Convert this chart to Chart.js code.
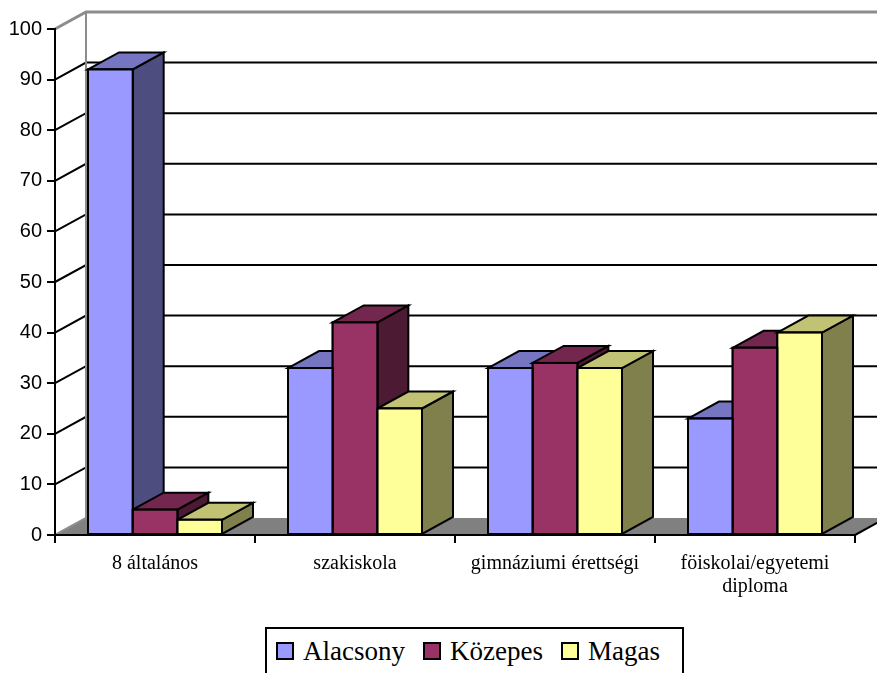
<!DOCTYPE html>
<html>
<head>
<meta charset="utf-8">
<script src="https://cdn.jsdelivr.net/npm/chart.js@4/dist/chart.umd.min.js"></script>
<style>
  html, body { margin: 0; padding: 0; width: 877px; height: 673px; overflow: hidden; background: #fff; }
  #wrap { position: relative; width: 877px; height: 673px; }
  #c { position: absolute; left: 0; top: 0; }
  #legend {
    position: absolute; left: 265px; top: 627px; width: 419px; height: 60px;
    box-sizing: border-box; border: 2px solid #000; background: #fff;
    padding: 7px 0 0 9px; white-space: nowrap;
    font-family: "Liberation Serif", "DejaVu Serif", "Times New Roman", serif; font-size: 27px; line-height: 30px; color: #000;
  }
  #legend .sw { display: inline-block; width: 14px; height: 14px; border: 2px solid #000; vertical-align: baseline; margin-right: 9px; }
  #legend .it { margin-right: 18px; }
</style>
</head>
<body>
<div id="wrap">
  <canvas id="c" width="877" height="673"></canvas>
  <div id="legend"></div>
</div>
<script>
// ---- data ----
const categories = ["8 általános", "szakiskola", "gimnáziumi érettségi", ["föiskolai/egyetemi", "diploma"]];
const seriesNames = ["Alacsony", "Közepes", "Magas"];
const alacsony = [92, 33, 33, 23];
const kozepes  = [5, 42, 34, 37];
const magas    = [3, 25, 33, 40];
const yTicks = [0, 10, 20, 30, 40, 50, 60, 70, 80, 90, 100];

// ---- styles ----
const frontColors = ["#9999FF", "#993366", "#FFFF99"];
const topColors   = ["#7575C2", "#74274E", "#C2C274"];
const sideColors  = ["#4D4D80", "#4D1A33", "#80804D"];
const DX = 31, DY = 17;

const threeD = {
  id: 'threeD',
  beforeDraw(chart) {
    const ctx = chart.ctx, ys = chart.scales.y, area = chart.chartArea;
    const L = area.left, R = area.right;
    const y0 = ys.getPixelForValue(0), y100 = ys.getPixelForValue(100);
    ctx.save();
    // floor
    ctx.fillStyle = '#808080';
    ctx.beginPath();
    ctx.moveTo(L, y0); ctx.lineTo(R, y0); ctx.lineTo(R + DX, y0 - DY); ctx.lineTo(L + DX, y0 - DY); ctx.closePath();
    ctx.fill();
    ctx.strokeStyle = '#000'; ctx.lineWidth = 2;
    ctx.beginPath(); ctx.moveTo(R, y0); ctx.lineTo(R + DX, y0 - DY); ctx.stroke();
    // back wall gridlines + left wall diagonals
    ctx.strokeStyle = '#000'; ctx.lineWidth = 2;
    yTicks.forEach(v => {
      if (v === 0 || v === 100) return;
      const yy = ys.getPixelForValue(v);
      ctx.beginPath();
      ctx.moveTo(L, yy); ctx.lineTo(L + DX, yy - DY); ctx.lineTo(R + DX + 40, yy - DY);
      ctx.stroke();
    });
    // wall edges (gray)
    ctx.strokeStyle = '#8c8c8c'; ctx.lineWidth = 3;
    ctx.beginPath();
    ctx.moveTo(L, y100); ctx.lineTo(L + DX, y100 - DY); ctx.lineTo(R + DX + 40, y100 - DY);
    ctx.stroke();
    ctx.lineWidth = 2;
    ctx.beginPath();
    ctx.moveTo(L + DX, y100 - DY); ctx.lineTo(L + DX, y0 - DY);
    ctx.moveTo(L, y0); ctx.lineTo(L + DX, y0 - DY);
    ctx.stroke();
    ctx.restore();
  },
  beforeDatasetsDraw(chart) {
    const ctx = chart.ctx;
    const bars = [];
    chart.data.datasets.forEach((ds, di) => {
      chart.getDatasetMeta(di).data.forEach(el => {
        const p = el.getProps(['x', 'y', 'base', 'width'], true);
        bars.push({ di, l: p.x - p.width / 2, r: p.x + p.width / 2, t: p.y, b: p.base });
      });
    });
    bars.sort((a, b) => a.l - b.l);
    ctx.save();
    ctx.lineWidth = 2; ctx.strokeStyle = '#000'; ctx.lineJoin = 'miter';
    bars.forEach(bb => {
      ctx.fillStyle = sideColors[bb.di];
      ctx.beginPath();
      ctx.moveTo(bb.r, bb.t); ctx.lineTo(bb.r + DX, bb.t - DY); ctx.lineTo(bb.r + DX, bb.b - DY); ctx.lineTo(bb.r, bb.b); ctx.closePath();
      ctx.fill(); ctx.stroke();
      ctx.fillStyle = topColors[bb.di];
      ctx.beginPath();
      ctx.moveTo(bb.l, bb.t); ctx.lineTo(bb.l + DX, bb.t - DY); ctx.lineTo(bb.r + DX, bb.t - DY); ctx.lineTo(bb.r, bb.t); ctx.closePath();
      ctx.fill(); ctx.stroke();
      ctx.fillStyle = frontColors[bb.di];
      ctx.fillRect(bb.l, bb.t, bb.r - bb.l, bb.b - bb.t);
      ctx.strokeRect(bb.l, bb.t, bb.r - bb.l, bb.b - bb.t);
    });
    ctx.restore();
  },
  afterDatasetsDraw(chart) {
    const ctx = chart.ctx;
    ctx.save();
    ctx.lineWidth = 2; ctx.strokeStyle = '#000';
    chart.data.datasets.forEach((ds, di) => {
      chart.getDatasetMeta(di).data.forEach(el => {
        const p = el.getProps(['x', 'y', 'base', 'width'], true);
        ctx.strokeRect(p.x - p.width / 2, p.y, p.width, p.base - p.y);
      });
    });
    ctx.restore();
  }
};

const chart = new Chart(document.getElementById('c'), {
  type: 'bar',
  data: {
    labels: categories,
    datasets: [
      { label: seriesNames[0], data: alacsony, backgroundColor: frontColors[0], borderWidth: 0 },
      { label: seriesNames[1], data: kozepes,  backgroundColor: frontColors[1], borderWidth: 0 },
      { label: seriesNames[2], data: magas,    backgroundColor: frontColors[2], borderWidth: 0 }
    ]
  },
  options: {
    responsive: false,
    devicePixelRatio: 1,
    animation: false,
    layout: { padding: { top: 29, right: 22, left: 0, bottom: 0 } },
    plugins: { legend: { display: false }, tooltip: { enabled: false } },
    datasets: { bar: { categoryPercentage: 0.67, barPercentage: 1.0 } },
    scales: {
      x: {
        offset: true,
        grid: { display: true, drawOnChartArea: false, drawTicks: true, tickLength: 8, color: '#000', lineWidth: 2, offset: true },
        border: { display: true, color: '#000', width: 2 },
        ticks: { color: '#000', padding: 9, maxRotation: 0, autoSkip: false,
                 font: { family: '"Liberation Serif", "Times New Roman", serif', size: 20, lineHeight: 1.15 } },
        afterFit(s) { s.height = 138; }
      },
      y: {
        min: 0, max: 100,
        afterBuildTicks(s) { s.ticks = yTicks.map(v => ({ value: v })); },
        grid: { display: true, drawOnChartArea: false, drawTicks: true, tickLength: 8, color: '#000', lineWidth: 2 },
        border: { display: true, color: '#000', width: 2 },
        ticks: { color: '#000', padding: 5,
                 font: { family: '"Liberation Sans", Arial, sans-serif', size: 20 } },
        afterFit(s) { s.width = 55; }
      }
    }
  },
  plugins: [threeD]
});

const lg = document.getElementById('legend');
seriesNames.forEach((n, i) => {
  const sp = document.createElement('span');
  sp.className = 'it';
  const sw = document.createElement('span');
  sw.className = 'sw';
  sw.style.background = frontColors[i];
  sp.appendChild(sw);
  sp.appendChild(document.createTextNode(n));
  lg.appendChild(sp);
});
</script>
</body>
</html>
